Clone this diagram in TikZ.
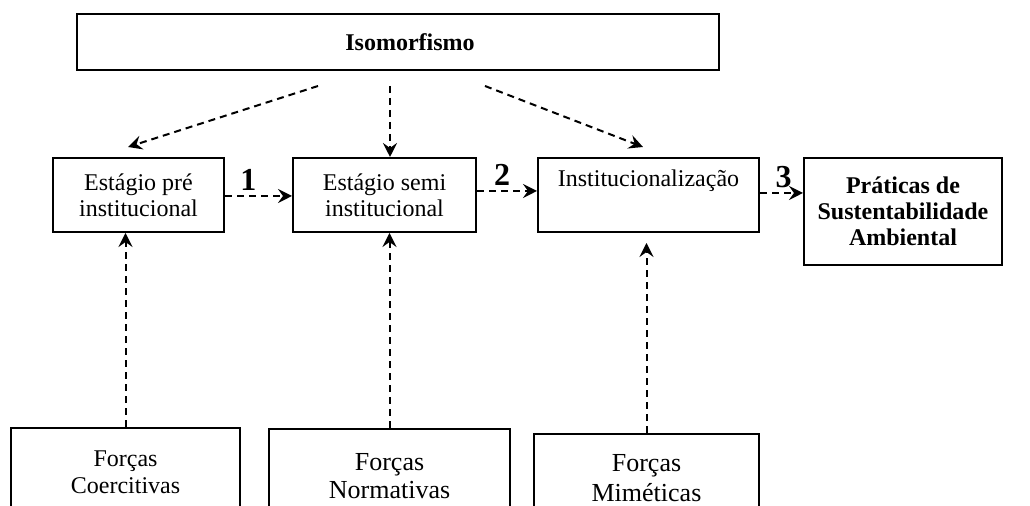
\documentclass[tikz,border=0pt]{standalone}
\usepackage{fontspec}
\setmainfont{Liberation Serif}
\usetikzlibrary{arrows.meta}

\begin{document}
\begin{tikzpicture}[x=0.5pt,y=-0.5pt,>={Stealth[length=7pt,width=7pt,inset=2.5pt]},
  font=\fontsize{12}{13}\selectfont]
\tikzstyle{box}=[draw=black,line width=1pt,align=center,inner sep=0pt]
\tikzstyle{boldbox}=[box,font=\fontsize{12}{13}\selectfont\bfseries]
\tikzstyle{link}=[->,line width=1pt,dash pattern=on 3.5pt off 2.5pt]
\tikzstyle{num}=[font=\fontsize{16}{16}\selectfont\bfseries,inner sep=2pt,above]
\useasboundingbox (0,0) rectangle (1030,506);
% top
\node[boldbox,minimum width=321pt,minimum height=28pt] (iso) at (398,42) {\hspace{12pt}Isomorfismo};
% stages
\node[box,minimum width=85.5pt,minimum height=37pt] (pre) at (138.5,195) {Estágio pré\\institucional};
\node[box,minimum width=91.5pt,minimum height=37pt] (semi) at (384.5,195) {Estágio semi\\institucional};
\node[box,minimum width=110.5pt,minimum height=37pt] (inst) at (648.5,195) {Institucionalização\\\strut};
\node[boldbox,minimum width=99pt,minimum height=53.5pt] (prat) at (903,211.5) {Práticas de\\Sustentabilidade\\Ambiental};
% forces
\node[box,minimum width=114.5pt,minimum height=44pt,font=\fontsize{12}{13.5}\selectfont] (coerc) at (125.5,472) {Forças\\Coercitivas};
\node[box,minimum width=120.5pt,minimum height=47pt,font=\fontsize{13}{14}\selectfont] (norm) at (389.5,476) {Forças\\Normativas};
\node[box,minimum width=112.5pt,minimum height=44pt,font=\fontsize{13}{15}\selectfont] (mim) at (646.5,478) {Forças\\Miméticas};

\coordinate (isoL) at (318,86);
\coordinate (isoM) at (390,86);
\coordinate (isoR) at (485,86);
\coordinate (tipL) at (128,147);
\coordinate (tipR) at (643,147);

\draw[link] (isoL) -- (tipL);
\draw[link] (isoM) -- (isoM |- semi.north);
\draw[link] (isoR) -- (tipR);

\draw[link] ([yshift=-0.5pt]pre.east) -- node[num,pos=0.35]{1} ([yshift=-0.5pt]semi.west);
\draw[link] ([yshift=2pt]semi.east) -- node[num,pos=0.42]{2} ([yshift=2pt]inst.west);
\draw[link] ([yshift=1pt]inst.east) -- node[num,pos=0.55]{3} ([yshift=1pt]prat.west |- inst.east);

\draw[link] (coerc.north) -- (coerc.north |- pre.south);
\draw[link] (norm.north) -- (norm.north |- semi.south);
\draw[link,shorten >=5pt] (mim.north) -- (mim.north |- inst.south);
\end{tikzpicture}
\end{document}
